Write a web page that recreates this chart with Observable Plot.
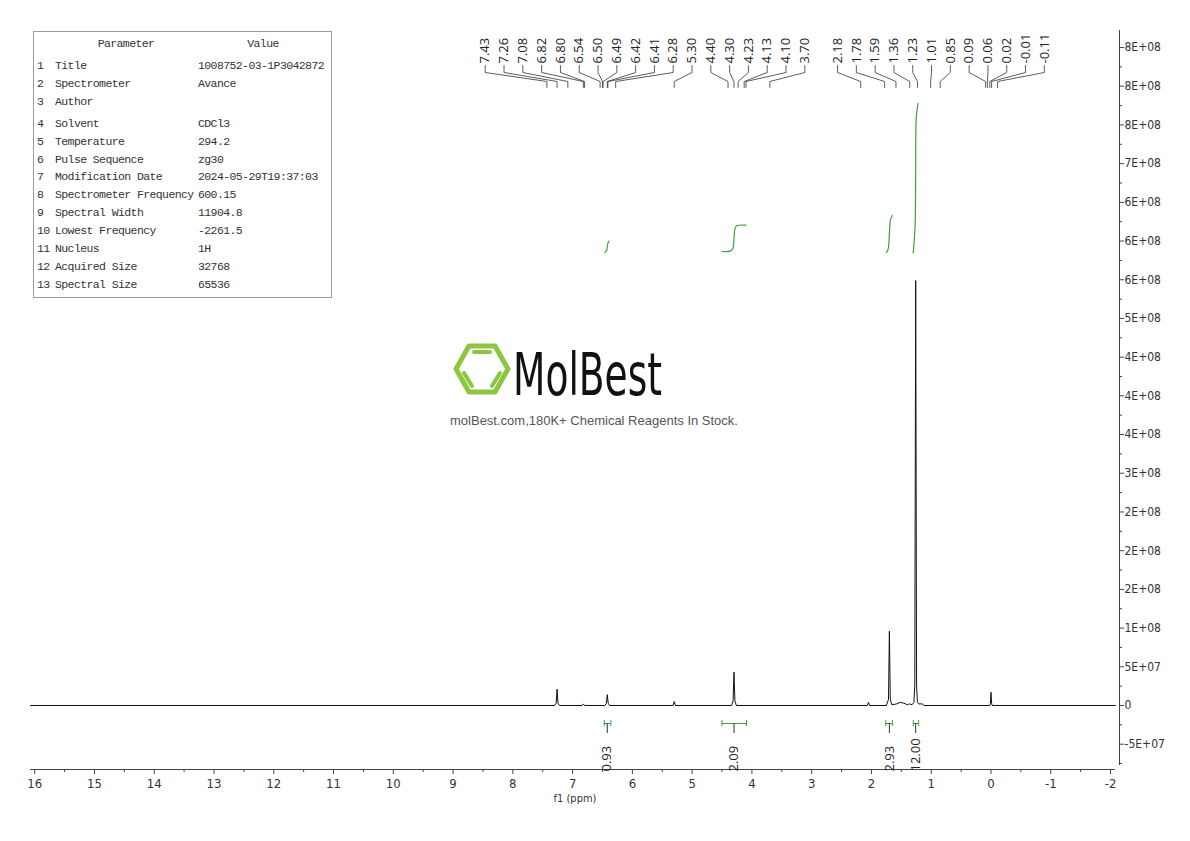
<!DOCTYPE html>
<html><head><meta charset="utf-8">
<script src="https://cdn.jsdelivr.net/npm/d3@7"></script>
<script src="https://cdn.jsdelivr.net/npm/@observablehq/plot@0.6"></script>
<style>
body{margin:0;background:#fff;}
#wrap{position:relative;width:1190px;height:841px;overflow:hidden;background:#fff;}
#chart{position:absolute;left:0;top:0;}
#ptable{position:absolute;left:33px;top:31px;width:297px;height:265px;border:1px solid #9a9a9a;font-family:"Liberation Mono","DejaVu Sans Mono",monospace;font-size:11.5px;letter-spacing:-0.6px;color:#333;}
#ptable div{position:absolute;white-space:pre;line-height:14px;}
#wm{position:absolute;left:0;top:0;pointer-events:none;}
</style></head>
<body><div id="wrap"><div id="chart"></div><div id="ptable"></div>
<svg id="wm" width="1190" height="841">
<g fill="none" stroke="#8cc63f" stroke-linecap="round" stroke-linejoin="round">
<polygon points="456,369 469,346 495,346 508,369 495,392 469,392" stroke-width="5"/>
<line x1="474" y1="352" x2="490" y2="352" stroke-width="4"/>
<line x1="464" y1="373" x2="472" y2="386" stroke-width="4"/>
<line x1="500" y1="373" x2="492" y2="386" stroke-width="4"/>
</g>
<text x="513" y="395" font-family="Liberation Sans Narrow, DejaVu Sans Condensed, sans-serif" font-size="58" textLength="149" lengthAdjust="spacingAndGlyphs" fill="#111">MolBest</text>
<text x="594" y="425" text-anchor="middle" font-family="Liberation Sans, Arial, sans-serif" font-size="13" fill="#555">molBest.com,180K+ Chemical Reagents In Stock.</text>
</svg>
</div>
<script>
// ---------- data ----------
const paramNames = ["Title","Spectrometer","Author","Solvent","Temperature","Pulse Sequence","Modification Date","Spectrometer Frequency","Spectral Width","Lowest Frequency","Nucleus","Acquired Size","Spectral Size"];
const paramValues = ["1008752-03-1P3042872","Avance","","CDCl3","294.2","zg30","2024-05-29T19:37:03","600.15","11904.8","-2261.5","1H","32768","65536"];

const spectrumPpm = [16.07, 7.30, 7.275, 7.26, 7.245, 7.22, 6.84, 6.82, 6.80, 6.46, 6.435, 6.42, 6.405, 6.38, 5.32, 5.30, 5.28, 4.34, 4.315, 4.30, 4.285, 4.26, 2.07, 2.05, 2.03, 1.75, 1.715, 1.70, 1.685, 1.66, 1.58, 1.52, 1.46, 1.40, 1.36, 1.32, 1.29, 1.275, 1.26, 1.245, 1.23, 1.21, 1.15, 1.12, 0.02, 0.01, 0.00, -0.01, -0.02, -2.08];
const spectrumIntensity = [0, 0, 3e6, 2.1e7, 3e6, 0, 0, 2e6, 0, 0, 3e6, 1.4e7, 3e6, 0, 0, 5e6, 0, 0, 6e6, 4.3e7, 6e6, 0, 0, 4e6, 0, 0, 8e6, 9.6e7, 8e6, 1e6, 2e6, 4e6, 3e6, 1e6, 2e6, 1e6, 4e6, 2.5e7, 5.49e8, 2.5e7, 4e6, 2e6, 2e6, 0, 0, 3e6, 1.7e7, 3e6, 0, 0];

const peakLabels = [7.43, 7.26, 7.08, 6.82, 6.80, 6.54, 6.50, 6.49, 6.42, 6.41, 6.28, 5.30, 4.40, 4.30, 4.23, 4.13, 4.10, 3.70, 2.18, 1.78, 1.59, 1.36, 1.23, 1.01, 0.85, 0.09, 0.06, 0.02, -0.01, -0.11];

const integralFrom = [6.47, 4.50, 1.76, 1.30];
const integralTo = [6.36, 4.09, 1.65, 1.21];
const integralCenter = [6.42, 4.30, 1.70, 1.26];
const integralValues = ["0.93", "2.09", "2.93", "12.00"];

const integralCurvePpm = [
  [6.46, 6.43, 6.41, 6.39],
  [4.50, 4.36, 4.32, 4.30, 4.28, 4.25, 4.10],
  [1.75, 1.72, 1.70, 1.68, 1.65],
  [1.30, 1.27, 1.26, 1.25, 1.22]
];
const integralCurveValue = [
  [5.85e8, 5.88e8, 5.97e8, 6.00e8],
  [5.865e8, 5.87e8, 5.90e8, 6.03e8, 6.17e8, 6.20e8, 6.205e8],
  [5.85e8, 5.90e8, 6.10e8, 6.28e8, 6.33e8],
  [5.85e8, 6.20e8, 6.90e8, 7.60e8, 7.78e8]
];

const xTickValues = [16,15,14,13,12,11,10,9,8,7,6,5,4,3,2,1,0,-1,-2];
const xTickLabels = ["16","15","14","13","12","11","10","9","8","7","6","5","4","3","2","1","0","-1","-2"];
const yTickValues = [-5e7, 0, 5e7, 1e8, 1.5e8, 2e8, 2.5e8, 3e8, 3.5e8, 4e8, 4.5e8, 5e8, 5.5e8, 6e8, 6.5e8, 7e8, 7.5e8, 8e8, 8.5e8];
const yTickLabels = ["-5E+07","0","5E+07","1E+08","2E+08","2E+08","2E+08","3E+08","4E+08","4E+08","4E+08","5E+08","6E+08","6E+08","6E+08","7E+08","8E+08","8E+08","8E+08"];

// ---------- table ----------
const tbl = document.getElementById("ptable");
function addCell(text, left, top, center){
  const d = document.createElement("div");
  d.textContent = text;
  d.style.top = (top - 31 - 7) + "px";
  if (center) { d.style.left = (left - 33) + "px"; d.style.transform = "translateX(-50%)"; }
  else d.style.left = (left - 34) + "px";
  tbl.appendChild(d);
}
addCell("Parameter", 125, 43, true);
addCell("Value", 262, 43, true);
paramNames.forEach((n, i) => {
  const cy = 65 + i * 17.9 + (i >= 3 ? 4 : 0);
  addCell(String(i + 1), 37, cy);
  addCell(n, 55, cy);
  addCell(paramValues[i], 198, cy);
});

// ---------- scales ----------
const W = 1190, H = 841;
const mL = 30, mR = 71, mT = 30, mB = H - 769;
const xDom = [16.07, -2.15];
const yDom = [-8.27e7, 8.72e8];
const xs = Plot.scale({x: {domain: xDom, range: [mL, W - mR]}});
const ys = Plot.scale({y: {domain: yDom, range: [H - mB, mT]}});
const yAt = px => ys.invert(px);

// label spreading (cluster centering)
function spread(desired, gap){
  let groups = desired.map(d => ({n: 1, sum: d}));
  let merged = true;
  while (merged) {
    merged = false;
    const out = [];
    for (const g of groups) {
      if (out.length) {
        const p = out[out.length - 1];
        const pEnd = p.sum / p.n + (p.n - 1) * gap / 2;
        const gStart = g.sum / g.n - (g.n - 1) * gap / 2;
        if (gStart - pEnd < gap) { p.n += g.n; p.sum += g.sum; merged = true; continue; }
      }
      out.push({...g});
    }
    groups = out;
  }
  const pos = [];
  for (const g of groups) { const c = g.sum / g.n; for (let k = 0; k < g.n; k++) pos.push(c + (k - (g.n - 1) / 2) * gap); }
  return pos;
}
const labelPx = spread(peakLabels.map(v => xs.apply(v)), 18.8);
const labels = peakLabels.map((v, i) => ({ppm: v, lx: xs.invert(labelPx[i]), text: v.toFixed(2)}));
const leaders = [];
labels.forEach((l, i) => {
  leaders.push({id: i, x: l.lx, y: yAt(65)});
  leaders.push({id: i, x: l.lx, y: yAt(72)});
  leaders.push({id: i, x: l.ppm, y: yAt(81)});
  leaders.push({id: i, x: l.ppm, y: yAt(87)});
});

const spectrum = spectrumPpm.map((p, i) => ({ppm: p, v: spectrumIntensity[i]}));
const curves = [];
integralCurvePpm.forEach((arr, k) => arr.forEach((p, j) => curves.push({id: k, ppm: p, v: integralCurveValue[k][j]})));
const integrals = integralValues.map((t, i) => ({from: integralFrom[i], to: integralTo[i], c: integralCenter[i], t}));

const xMinor = xTickValues.slice(0, -1).map(v => v - 0.5);
const yMinor = yTickValues.slice(0, -1).map(v => v + 2.5e7).concat([-7.5e7]);
const yLab = new Map(yTickValues.map((v, i) => [v, yTickLabels[i]]));
const xLab = new Map(xTickValues.map((v, i) => [v, xTickLabels[i]]));

const green = "#3f9e3f";
const narrow = "'Liberation Sans Narrow','DejaVu Sans Condensed',sans-serif";
const sans = "'Open Sans','DejaVu Sans',sans-serif";

const chart = Plot.plot({
  width: W, height: H,
  marginLeft: mL, marginRight: mR, marginTop: mT, marginBottom: mB,
  x: {domain: xDom, label: null},
  y: {domain: yDom, label: null},
  style: {fontFamily: narrow, fontSize: "12px", color: "#333", background: "#fff"},
  marks: [
    Plot.ruleY([yDom[0]], {x1: 16.07, x2: -2.08, stroke: "#444", strokeWidth: 1}),
    Plot.ruleX([xDom[1]], {y1: yAt(765), y2: yDom[1], stroke: "#444", strokeWidth: 1}),
    Plot.axisX({ticks: xTickValues, tickSize: 5, tickPadding: 4, tickFormat: d => xLab.get(d), fontSize: 13, fontFamily: narrow, stroke: "#444"}),
    Plot.axisX({ticks: xMinor, tickSize: 3, tickFormat: () => "", stroke: "#444"}),
    Plot.axisY({anchor: "right", ticks: yTickValues, tickSize: 4, tickPadding: 1, tickFormat: d => yLab.get(d), fontSize: 12, fontFamily: narrow, stroke: "#444"}),
    Plot.axisY({anchor: "right", ticks: yMinor, tickSize: 2, tickFormat: () => "", stroke: "#444"}),
    Plot.text(["f1 (ppm)"], {frameAnchor: "bottom", dy: 32, fontSize: 11, fontFamily: narrow, fill: "#333"}),
    Plot.line(spectrum, {x: "ppm", y: "v", stroke: "#111", strokeWidth: 1}),
    Plot.line(curves, {x: "ppm", y: "v", z: "id", stroke: green, strokeWidth: 1.2, curve: "catmull-rom"}),
    Plot.ruleY(integrals, {x1: "from", x2: "to", y: yAt(723), stroke: green, strokeWidth: 1}),
    Plot.ruleX(integrals, {x: "from", y1: yAt(720), y2: yAt(726), stroke: green, strokeWidth: 1}),
    Plot.ruleX(integrals, {x: "to", y1: yAt(720), y2: yAt(726), stroke: green, strokeWidth: 1}),
    Plot.ruleX(integrals, {x: "c", y1: yAt(723), y2: yAt(733), stroke: "#333", strokeWidth: 1}),
    Plot.text(integrals, {x: "c", y: yAt(771), text: "t", rotate: -90, textAnchor: "start", fontSize: 13, fontFamily: sans, fill: "#222"}),
    Plot.line(leaders, {x: "x", y: "y", z: "id", stroke: "#333", strokeWidth: 0.8}),
    Plot.text(labels, {x: "lx", y: yAt(63), text: "text", rotate: -90, textAnchor: "start", fontSize: 13, fontFamily: sans, fill: "#222"})
  ]
});
document.getElementById("chart").appendChild(chart);
</script></body></html>
